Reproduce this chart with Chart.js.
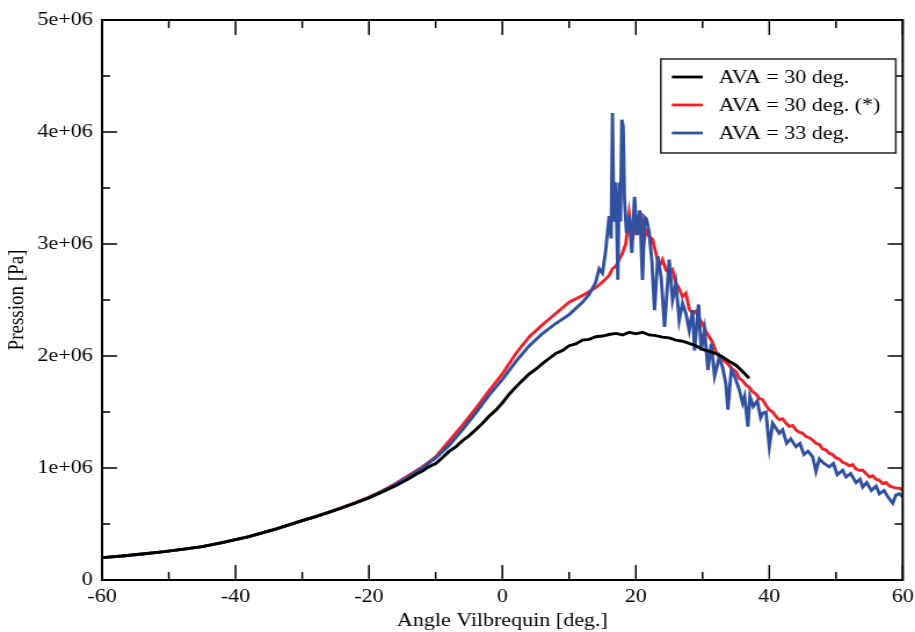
<!DOCTYPE html>
<html>
<head>
<meta charset="utf-8">
<script src="https://cdn.jsdelivr.net/npm/chart.js@4.4.1/dist/chart.umd.min.js"></script>
<style>
  html, body { margin: 0; padding: 0; background: #fff; overflow: hidden; }
  #wrap { width: 915px; height: 632px; overflow: hidden; }
  #myChart { transform: scaleX(1.1597); transform-origin: 0 0; }
</style>
</head>
<body>
<div id="wrap">
<canvas id="myChart" width="789" height="632" style="width:789px;height:632px"></canvas>
</div>
<script>
// pressure values are in units of 1e6 Pa
var seriesLabels = ["AVA = 30 deg.", "AVA = 30 deg. (*)", "AVA = 33 deg."];
var seriesColors = ["#000000", "#ee2228", "#3050a0"];

var blackAngle = [-60,-57,-54,-51,-48,-45,-42,-40,-38,-36,-34,-32,-30,-28,-26,-24,-22,-20,-18,-16,-14,-13,-12,-11,-10,-9,-8,-7,-6,-5,-4,-3,-2,-1,0,1,2,3,4,5,6,7,8,9,10,11,12,13,14,15,16,17,18,19,20,21,22,23,24,25,26,27,28,29,30,31,32,33,34,35,36,37];
var blackPression = [0.200,0.214,0.232,0.251,0.273,0.298,0.333,0.360,0.388,0.420,0.455,0.492,0.530,0.566,0.604,0.645,0.688,0.733,0.785,0.842,0.905,0.942,0.972,1.012,1.040,1.092,1.148,1.188,1.243,1.288,1.342,1.398,1.462,1.515,1.582,1.657,1.722,1.782,1.838,1.882,1.932,1.978,2.022,2.048,2.092,2.108,2.142,2.148,2.172,2.178,2.192,2.202,2.188,2.212,2.198,2.212,2.188,2.182,2.168,2.162,2.142,2.132,2.112,2.092,2.058,2.042,2.022,1.992,1.952,1.918,1.862,1.800];

var redAngle = [-60,-57,-54,-51,-48,-45,-42,-40,-38,-36,-34,-32,-30,-28,-26,-24,-22,-20,-18,-16,-14,-12,-10,-8,-6,-4,-2,0,2,4,6,8,10,12,14,15,16,16.5,17,17.5,18,18.5,19,19.5,20,20.5,20.8,21.1,21.5,22,22.5,23,23.5,24,24.5,25,25.5,26,26.5,27,27.5,28,28.5,29,29.5,30,30.5,31,31.5,32,32.5,33,33.8,34.5,35,35.5,36,36.5,37,37.5,38,38.5,39,39.5,40,40.5,41,41.5,42,42.5,43,43.5,44,44.5,45,45.5,46,46.5,47,47.5,48,48.5,49,49.5,50,50.5,51,51.5,52,52.5,53,53.5,54,54.5,55,55.5,56,56.5,57,57.5,58,58.5,59,59.5,60];
var redPression = [0.200,0.214,0.232,0.251,0.273,0.298,0.333,0.360,0.388,0.420,0.455,0.492,0.530,0.566,0.606,0.648,0.692,0.740,0.797,0.862,0.935,1.010,1.100,1.240,1.380,1.530,1.690,1.840,2.020,2.170,2.280,2.380,2.480,2.540,2.610,2.660,2.720,2.780,2.800,2.860,2.920,3.000,3.270,3.050,3.150,3.210,3.240,2.980,3.120,3.070,3.040,2.920,2.800,2.860,2.770,2.740,2.770,2.650,2.600,2.530,2.560,2.420,2.380,2.400,2.330,2.290,2.220,2.170,2.120,2.040,1.990,1.970,1.930,1.880,1.860,1.800,1.780,1.740,1.720,1.680,1.660,1.620,1.610,1.560,1.520,1.500,1.460,1.430,1.440,1.400,1.370,1.380,1.340,1.320,1.310,1.280,1.270,1.250,1.220,1.210,1.170,1.160,1.130,1.120,1.090,1.080,1.050,1.040,1.020,1.030,0.990,0.980,0.980,0.950,0.920,0.930,0.900,0.890,0.860,0.870,0.840,0.830,0.820,0.820,0.800];

var blueAngle = [-60,-57,-54,-51,-48,-45,-42,-40,-38,-36,-34,-32,-30,-28,-26,-24,-22,-20,-18,-16,-14,-12,-10,-8,-6,-4,-2,0,2,4,6,8,10,12,13,14,14.5,15,15.5,16,16.3,16.5,16.7,16.9,17.1,17.3,17.5,17.7,17.9,18.1,18.3,18.6,19,19.4,19.8,20.2,20.6,21,21.3,21.6,22,22.4,22.8,23.3,23.8,24.3,24.7,25,25.5,26,26.5,27,27.5,28,28.5,28.8,29.4,29.8,30.3,30.8,31.3,31.8,32.5,33,33.5,33.8,34.3,34.8,35.5,36,36.3,36.8,37.1,37.6,38.2,38.7,39,39.5,40,40.5,41.5,42,42.6,43.2,44,44.6,45.2,45.8,46.5,47,47.5,48.2,49,49.6,50.2,51,51.5,52.2,53,53.6,54,54.6,55.3,56,56.5,57.2,57.8,58.5,59,59.5,60];
var bluePression = [0.200,0.214,0.232,0.251,0.273,0.298,0.333,0.360,0.388,0.420,0.455,0.492,0.530,0.566,0.606,0.647,0.690,0.737,0.793,0.855,0.925,1.000,1.090,1.200,1.340,1.490,1.650,1.790,1.950,2.090,2.200,2.290,2.370,2.480,2.550,2.660,2.780,2.740,2.950,3.250,3.050,4.170,3.200,3.550,3.300,2.680,3.550,3.200,4.110,4.050,3.400,3.100,3.250,2.920,3.420,3.080,3.300,2.680,3.240,3.220,3.100,2.850,2.410,2.890,2.700,2.260,2.600,2.860,2.500,2.650,2.320,2.470,2.380,2.230,2.410,2.050,2.460,2.050,2.230,1.875,2.110,1.820,1.990,1.900,1.750,1.520,1.875,1.820,1.700,1.580,1.640,1.370,1.640,1.550,1.600,1.450,1.490,1.500,1.190,1.400,1.310,1.340,1.220,1.260,1.190,1.220,1.120,1.150,1.100,0.970,1.080,1.040,1.010,1.040,0.940,0.980,0.920,0.950,0.870,0.900,0.830,0.870,0.800,0.840,0.770,0.800,0.740,0.685,0.760,0.770,0.740];

var xTickLabels = ["-60", "-40", "-20", "0", "20", "40", "60"];
var yTickLabels = ["0", "1e+06", "2e+06", "3e+06", "4e+06", "5e+06"];

var fontFamily = "'Liberation Serif'";

function toPoints(xs, ys) {
	var pts = [];
	for (var i = 0; i < xs.length; i++) {
		pts.push({x: xs[i], y: ys[i]});
	}
	return pts;
}

// frame, inward ticks on the four sides and the boxed legend
var gracePlugin = {
	id: 'grace',
	afterDraw: function(chart) {
		var ctx = chart.ctx;
		var a = chart.chartArea;
		var xs = chart.scales.x, ys = chart.scales.y;
		ctx.save();
		ctx.strokeStyle = '#000';
		ctx.lineWidth = 1.5;
		for (var v = -60; v <= 60; v += 10) {
			var px = xs.getPixelForValue(v);
			var len = (v % 20 === 0) ? 15 : 8;
			ctx.beginPath();
			ctx.moveTo(px, a.bottom); ctx.lineTo(px, a.bottom - len);
			ctx.moveTo(px, a.top); ctx.lineTo(px, a.top + len);
			ctx.stroke();
		}
		for (var k = 0; k <= 10; k++) {
			var py = ys.getPixelForValue(k * 0.5);
			var l2 = (k % 2 === 0) ? 13 : 7;
			ctx.beginPath();
			ctx.moveTo(a.left, py); ctx.lineTo(a.left + l2, py);
			ctx.moveTo(a.right, py); ctx.lineTo(a.right - l2, py);
			ctx.stroke();
		}
		ctx.lineWidth = 2;
		ctx.strokeRect(a.left, a.top, a.right - a.left, a.bottom - a.top);

		// legend
		var bx = a.right - 208.6, by = a.top + 39, bw = 202.6, bh = 94;
		ctx.fillStyle = '#fff';
		ctx.fillRect(bx, by, bw, bh);
		ctx.strokeStyle = '#222';
		ctx.lineWidth = 1.5;
		ctx.strokeRect(bx, by, bw, bh);
		ctx.font = "19px " + fontFamily;
		ctx.textBaseline = 'middle';
		ctx.textAlign = 'left';
		for (var i = 0; i < seriesLabels.length; i++) {
			var ry = a.top + 57 + i * 28;
			ctx.strokeStyle = seriesColors[i];
			ctx.lineWidth = 2.8;
			ctx.beginPath();
			ctx.moveTo(bx + 9.5, ry); ctx.lineTo(bx + 36.2, ry);
			ctx.stroke();
			ctx.fillStyle = '#000';
			ctx.fillText(seriesLabels[i], bx + 50, ry + 1);
		}
		ctx.restore();
	}
};

window.onload = function() {
	var ctx = document.getElementById('myChart').getContext('2d');
	var chart = new Chart(ctx, {
		type: 'line',
		data: {
			datasets: [{
				label: seriesLabels[0],
				data: toPoints(blackAngle, blackPression),
				borderColor: seriesColors[0],
				order: 0
			}, {
				label: seriesLabels[1],
				data: toPoints(redAngle, redPression),
				borderColor: seriesColors[1],
				order: 2
			}, {
				label: seriesLabels[2],
				data: toPoints(blueAngle, bluePression),
				borderColor: seriesColors[2],
				order: 1
			}]
		},
		options: {
			responsive: false,
			animation: false,
			devicePixelRatio: 1,
			layout: { padding: { left: 0, right: 10.6, top: 20, bottom: 0 } },
			elements: {
				point: { radius: 0 },
				line: { borderWidth: 2.9, tension: 0, fill: false }
			},
			plugins: {
				legend: { display: false },
				tooltip: { enabled: false }
			},
			scales: {
				x: {
					type: 'linear',
					min: -60, max: 60,
					grid: { display: false, drawTicks: false },
					border: { display: false },
					ticks: {
						stepSize: 20,
						padding: 6,
						color: '#000',
						maxRotation: 0,
						font: { family: fontFamily, size: 19 },
						callback: function(value, index) { return xTickLabels[index]; }
					},
					title: {
						display: true,
						text: 'Angle Vilbrequin [deg.]',
						color: '#000',
						font: { family: fontFamily, size: 19 },
						padding: { top: 0, bottom: 0 }
					},
					afterFit: function(scale) {
						scale.height = 52;
						scale.paddingLeft = 0;
						scale.paddingRight = 0;
					}
				},
				y: {
					type: 'linear',
					min: 0, max: 5,
					grid: { display: false, drawTicks: false },
					border: { display: false },
					ticks: {
						stepSize: 1,
						padding: 8,
						color: '#000',
						font: { family: fontFamily, size: 19 },
						callback: function(value, index) { return yTickLabels[index]; }
					},
					title: {
						display: true,
						text: 'Pression [Pa]',
						color: '#000',
						font: { family: fontFamily, size: 19 },
						padding: { top: 4, bottom: 0 }
					},
					afterFit: function(scale) {
						scale.width = 88;
						scale.paddingTop = 0;
						scale.paddingBottom = 0;
					}
				}
			}
		},
		plugins: [gracePlugin]
	});
};
</script>
</body>
</html>
